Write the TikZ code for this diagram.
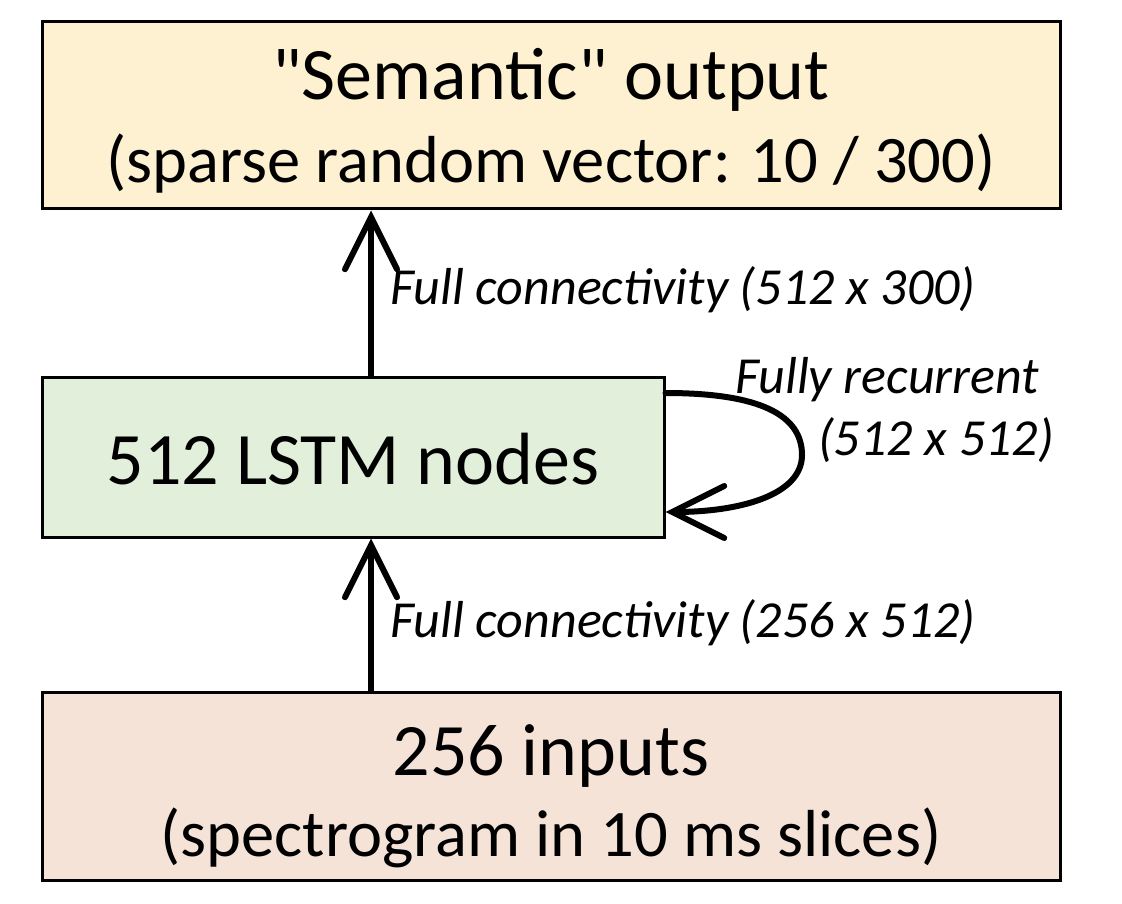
\documentclass[tikz,border=0pt]{standalone}
\usepackage{fontspec}
\setmainfont{Carlito}[Ligatures=TeXOff]
\usetikzlibrary{arrows.meta}
\definecolor{topfill}{HTML}{FDF1D1}
\definecolor{midfill}{HTML}{E2EFDA}
\definecolor{botfill}{HTML}{F6E3D7}
\tikzset{
  box/.style={draw=black, line width=3pt, minimum width=#1, inner sep=0pt},
  big/.style={font=\fontsize{74}{80}\selectfont, anchor=base, inner sep=0pt},
  sub/.style={font=\fontsize{66.5}{72}\selectfont, anchor=base, inner sep=0pt},
  lab/.style={font=\fontsize{52}{56}\selectfont\itshape, anchor=base west, inner sep=0pt},
  arr/.style={line width=6pt, line cap=round, -{Straight Barb[length=52pt, width=52pt, line width=6pt, line cap=round]}}
}
\begin{document}
\begin{tikzpicture}[x=1pt, y=-1pt]
\useasboundingbox (0,0) rectangle (1122,904);
\node[box=1018pt, minimum height=187pt, fill=topfill] (top) at (551,115.5) {};
\node[box=622pt, minimum height=160pt, fill=midfill] (mid) at (353,457) {};
\node[box=1018pt, minimum height=188pt, fill=botfill] (bot) at (551,786.5) {};
\node[big] (t1) at (551,100) {"Semantic" output};
\node[sub] (t2) at (551,183) {(sparse random vector: 10 / 300)};
\node[big] (m1) at (353,484) {512 LSTM nodes};
\node[big] (b1) at (551,775) {256 inputs};
\node[sub] (b2) at (551,856) {(spectrogram in 10 ms slices)};
\node[lab] (l1) at (390,305) {Full connectivity (512 x 300)};
\node[lab] (l2) at (390,637) {Full connectivity (256 x 512)};
\node[lab] (l3) at (735,393) {Fully recurrent};
\node[lab] (l4) at (818,455) {(512 x 512)};
\draw[arr] ([xshift=18pt]mid.north) -- ([xshift=-180pt]top.south);
\draw[arr] ([xshift=-180pt]bot.north) -- ([xshift=18pt]mid.south);
\coordinate (ls) at ([yshift=64pt]mid.east);
\coordinate (le) at ([yshift=-55pt]mid.east);
\draw[arr] (ls) .. controls (760,393) and (802,415) .. (802,455) .. controls (802,495) and (740,512) .. (le);
\end{tikzpicture}
\end{document}
